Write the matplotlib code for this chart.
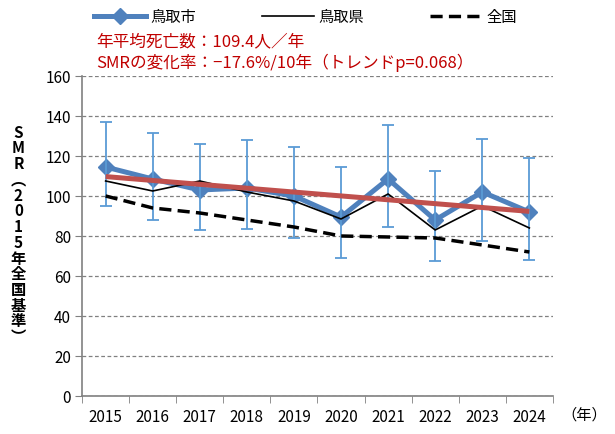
import numpy as np
import matplotlib
matplotlib.use("Agg")
import matplotlib.pyplot as plt

plt.rcParams['font.family'] = ['Noto Sans CJK JP', 'DejaVu Sans']

# ── data ────────────────────────────────────────────────────────────────
years = ['2015', '2016', '2017', '2018', '2019', '2020', '2021', '2022', '2023', '2024']
city = [114.5, 108.5, 103.0, 104.0, 100.0, 89.5, 108.5, 88.0, 102.0, 92.0]
city_hi = [137.0, 131.5, 126.0, 128.0, 124.5, 114.5, 135.5, 112.5, 128.5, 119.0]
city_lo = [95.0, 88.0, 83.0, 83.5, 79.0, 69.0, 84.5, 67.5, 77.5, 68.0]
pref = [107.5, 102.5, 107.5, 102.0, 97.5, 88.5, 101.0, 83.0, 95.0, 84.0]
nation = [100.0, 94.0, 91.5, 88.0, 84.5, 80.0, 79.5, 79.0, 75.5, 72.0]
trend_ends = [109.7, 92.3]   # trend line at first / last year

BLUE = '#4F81BD'
ERR = '#5B9BD5'
RED = '#C0504D'
GRID = '#808080'

fig = plt.figure(figsize=(6.15, 4.35), dpi=100)
ax = fig.add_axes([0.1335, 0.0874, 0.7655, 0.7356])

x = np.arange(len(years))
yerr = [np.array(city) - np.array(city_lo), np.array(city_hi) - np.array(city)]

l_city, = ax.plot(x, city, color=BLUE, lw=3.6, marker='D', ms=8,
                  zorder=3, label='鳥取市')
ax.errorbar(x, city, yerr=yerr, fmt='none', ecolor=ERR, elinewidth=1.3,
            capsize=4, capthick=1.3, zorder=4)
l_pref, = ax.plot(x, pref, color='black', lw=1.2, zorder=5, label='鳥取県')
l_nat, = ax.plot(x, nation, color='black', lw=2.5, ls=(0, (3.5, 1.8)),
                 zorder=5, label='全国')
ax.plot([x[0], x[-1]], trend_ends, color=RED, lw=3.6, zorder=6,
        solid_capstyle='butt')

# ── axes styling ────────────────────────────────────────────────────────
ax.set_xlim(-0.5, len(years) - 0.5)
ax.set_ylim(0, 160)
ax.set_yticks(np.arange(0, 161, 20))
ax.set_xticks(x)
ax.set_xticklabels(years)
ax.set_xticks(np.arange(-0.5, len(years), 1), minor=True)
ax.tick_params(axis='x', which='major', length=0, pad=9, labelsize=11)
ax.tick_params(axis='x', which='minor', length=5, color=GRID, direction='out')
ax.tick_params(axis='y', length=5, color=GRID, labelsize=11, pad=3,
               direction='out')
ax.grid(axis='y', color=GRID, ls=(0, (3, 2)), lw=0.9)
ax.set_axisbelow(True)
for s in ('top', 'right'):
    ax.spines[s].set_visible(False)
for s in ('left', 'bottom'):
    ax.spines[s].set_color(GRID)
    ax.spines[s].set_linewidth(1.2)

# stacked vertical y label (vertical-form brackets)
ylab = 'SMR︵2015年全国基準︶'
fig.text(0.03, 0.46, '\n'.join(ylab), ha='center', va='center',
         fontsize=11, fontweight='bold', linespacing=0.98)

fig.text(0.95, 0.047, '（年）', ha='center', va='center', fontsize=11)

# legend at top
fig.legend(handles=[l_city, l_pref, l_nat], loc='center left',
           bbox_to_anchor=(0.13, 0.96), ncol=3, frameon=False,
           handlelength=3.4, columnspacing=4.3, fontsize=11,
           handletextpad=0.3)

fig.text(0.156, 0.903, '年平均死亡数：109.4人／年', color='#C00000',
         fontsize=12, va='center')
fig.text(0.156, 0.855, 'SMRの変化率：−17.6%/10年（トレンドp=0.068）',
         color='#C00000', fontsize=12, va='center')

fig.savefig('out.png', dpi=100)
